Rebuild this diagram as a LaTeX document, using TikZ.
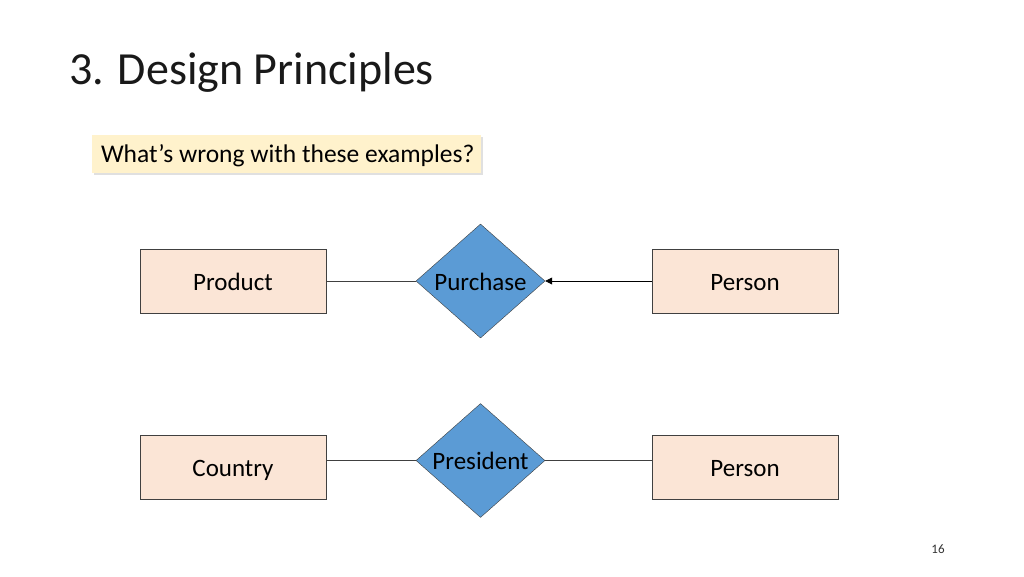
\documentclass[tikz,border=0pt]{standalone}
\usepackage{fontspec}
\setmainfont{Carlito}
\usepackage{xcolor}
\usepackage{tikz}
\usetikzlibrary{arrows.meta,positioning,shapes.geometric,shadows,calc}

\definecolor{entityfill}{HTML}{FBE5D6}
\definecolor{relfill}{HTML}{5B9BD5}
\definecolor{notefill}{HTML}{FFF2CC}
\definecolor{edgegray}{HTML}{404040}

\begin{document}
\begin{tikzpicture}[
    x=1pt, y=-1pt,
    entity/.style={
        draw=edgegray,
        fill=entityfill,
        minimum width=186pt,
        minimum height=64pt,
        inner sep=0pt,
        text height=20pt, text depth=2pt,
        font=\fontsize{25}{30}\selectfont
    },
    relation/.style={
        draw=edgegray,
        diamond,
        aspect=1.13,
        fill=relfill,
        minimum width=129pt,
        minimum height=114pt,
        inner sep=0pt,
        text height=20pt, text depth=2pt,
        font=\fontsize{25}{30}\selectfont
    },
    note/.style={
        fill=notefill,
        drop shadow={opacity=0.3, shadow xshift=1.5pt, shadow yshift=-2pt, fill=black!40},
        minimum width=389pt,
        minimum height=38pt,
        inner sep=0pt,
        text height=19pt, text depth=3pt,
        font=\fontsize{25.5}{30}\selectfont
    },
    line/.style={edgegray, line width=0.8pt},
    arrow/.style={-{Triangle[length=7pt,width=7pt]}, black, line width=0.8pt}
]
\useasboundingbox (0,0) rectangle (1024,576);

% ---- Title and question ----
\node[anchor=base west, inner sep=0pt, font=\fontsize{46}{52}\selectfont, text=black!90] (title) at (69,84) {3. Design Principles};
\node[note] (question) at (286.5,154) {\makebox[371pt][l]{What’s wrong with these examples?}};

% ---- First example ----
\node[relation] (purchase) at (480.5,281) {Purchase};
\node[entity] (product) at (233,281) {Product};
\node[entity] (person1) at (745,281) {Person};

% ---- Second example ----
\node[relation] (president) at (480.5,460.5) {President};
\node[entity] (country) at (233,467) {Country};
\node[entity] (person2) at (745,467) {Person};

% ---- Page number ----
\node[font=\fontsize{13}{15}\selectfont, text=black!80] (page) at (938,549) {16};

% ---- Connections ----
\draw[line] (product) -- (purchase);
\draw[arrow] (person1) -- (purchase);

\draw[line] (country.east |- president) -- (president.west);
\draw[line] (president.east) -- (person2.west |- president);

\end{tikzpicture}
\end{document}
